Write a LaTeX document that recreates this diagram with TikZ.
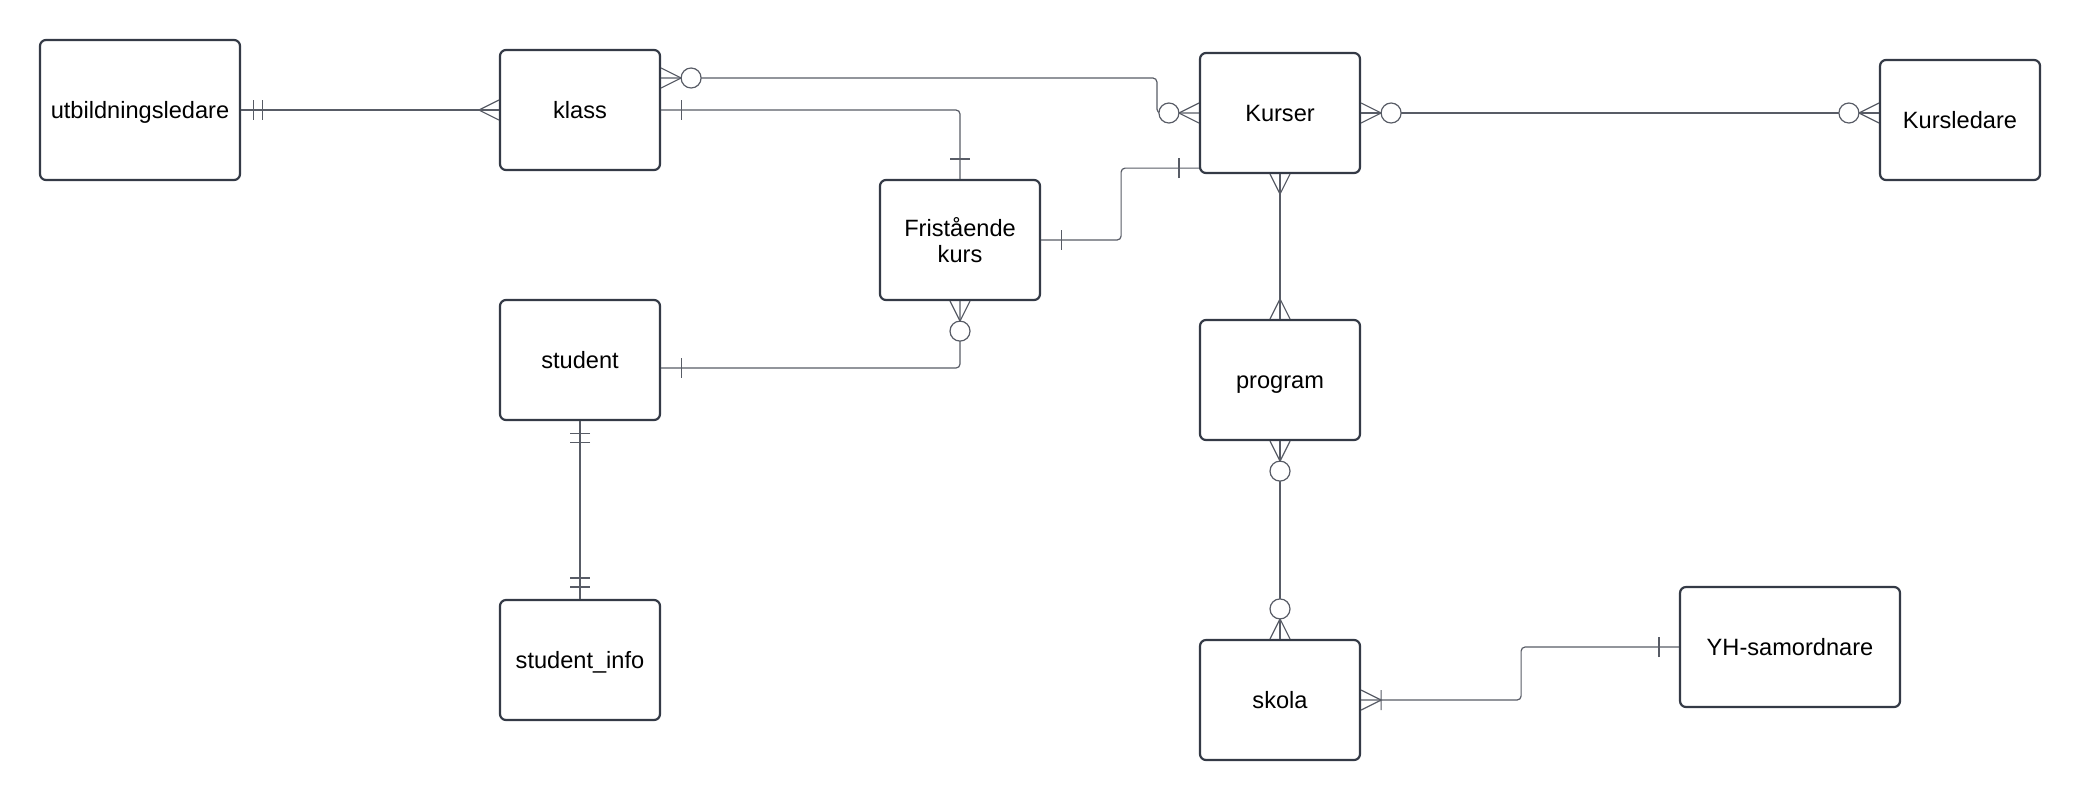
\documentclass[tikz,border=0pt]{standalone}
\usepackage{fontspec}
\setmainfont{Liberation Sans}
\usetikzlibrary{positioning, calc}
\definecolor{boxline}{RGB}{52, 58, 70}
\definecolor{linkline}{RGB}{88, 92, 102}

\tikzset{
  entity/.style={draw=boxline, line width=1.1pt, rounded corners=3pt, fill=white,
                 minimum width=80pt, minimum height=60pt, inner sep=0pt, align=center,
                 text height=10pt, text depth=1.4pt,
                 font=\fontsize{11.8}{13.3}\selectfont},
  link/.style={draw=linkline, line width=0.6pt, rounded corners=2pt},
  tick/.style={draw=linkline, line width=0.6pt},
  pics/onebar/.style={code={\draw[tick] (20,-10) -- (20,10);}},
  pics/twobar/.style={code={\draw[tick] (12,-10) -- (12,10) (21,-10) -- (21,10);}},
  pics/crowfoot/.style={code={\draw[tick] (0,-10) -- (20,0) -- (0,10);}},
  pics/crowring/.style={code={\draw[tick] (0,-10) -- (20,0) -- (0,10);
                              \draw[tick, fill=white] (30,0) circle [radius=5pt];}},
  pics/crowbar/.style={code={\draw[tick] (0,-10) -- (20,0) -- (0,10) (20,-10) -- (20,10);}}
}

\begin{document}
\begin{tikzpicture}[x=0.5pt, y=-0.5pt]
  \useasboundingbox (0,0) rectangle (2080,800);

  % entities
  \node[entity, minimum width=100pt, minimum height=70pt] (utb) at (140,110) {utbildningsledare};
  \node[entity] (klass) at (580,110) {klass};
  \node[entity] (kurser) at (1280,113) {Kurser};
  \node[entity] (kursledare) at (1960,120) {Kursledare};
  \node[entity, text height=, text depth=] (frist) at (960,240) {Fristående\\kurs};
  \node[entity] (student) at (580,360) {student};
  \node[entity] (program) at (1280,380) {program};
  \node[entity] (info) at (580,660) {student\_info};
  \node[entity] (skola) at (1280,700) {skola};
  \node[entity, minimum width=110pt] (yh) at (1790,647) {YH-samordnare};

  % helper points
  \coordinate (klasstop) at ($(klass.east)+(0,-32)$);
  \coordinate (kurbend) at ($(kurser.west)+(-42,0)$);
  \coordinate (kurlow) at ($(kurser.south west)+(0,-6)$);
  \coordinate (studin) at ($(student.east)+(0,8)$);

  % relations
  \draw[link] (utb.east) -- (klass.west);
  \draw[link] (klasstop) -| (kurbend) -- (kurser.west);
  \draw[link] (klass.east) -| (frist.north);
  \draw[link] (frist.east) -- ++(80,0) |- (kurlow);
  \draw[link] (kurser.east) -- (kurser.east -| kursledare.west);
  \draw[link] (kurser.south) -- (program.north);
  \draw[link] (program.south) -- (skola.north);
  \draw[link] (skola.east) -- ++(160,0) |- (yh.west);
  \draw[link] (frist.south) |- (studin);
  \draw[link] (student.south) -- (info.north);

  % cardinality marks
  \pic at (utb.east) {twobar};
  \pic[rotate=180] at (klass.west) {crowfoot};
  \pic at (klasstop) {crowring};
  \pic[rotate=180] at (kurser.west) {crowring};
  \pic at (klass.east) {onebar};
  \pic[rotate=90] at (frist.north) {onebar};
  \pic at (frist.east) {onebar};
  \pic[rotate=180] at (kurlow) {onebar};
  \pic at (kurser.east) {crowring};
  \pic[rotate=180] at (kurser.east -| kursledare.west) {crowring};
  \pic[rotate=-90] at (kurser.south) {crowfoot};
  \pic[rotate=90] at (program.north) {crowfoot};
  \pic[rotate=-90] at (program.south) {crowring};
  \pic[rotate=90] at (skola.north) {crowring};
  \pic at (skola.east) {crowbar};
  \pic[rotate=180] at (yh.west) {onebar};
  \pic[rotate=-90] at (frist.south) {crowring};
  \pic at (studin) {onebar};
  \pic[rotate=-90] at (student.south) {twobar};
  \pic[rotate=90] at (info.north) {twobar};
\end{tikzpicture}
\end{document}
